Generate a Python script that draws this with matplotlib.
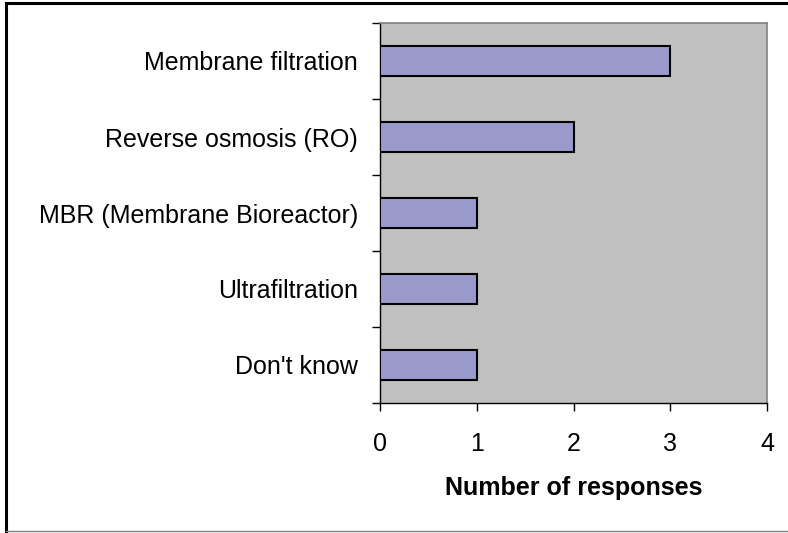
import matplotlib.pyplot as plt
from matplotlib.lines import Line2D
import numpy as np

categories = ["Membrane filtration", "Reverse osmosis (RO)", "MBR (Membrane Bioreactor)",
              "Ultrafiltration", "Don't know"]
responses = [3, 2, 1, 1, 1]
x_ticks = [0, 1, 2, 3, 4]

plt.rcParams.update({
    "font.family": ["Liberation Sans", "DejaVu Sans"],
    "font.size": 18,
})

W, H = 788, 533
fig = plt.figure(figsize=(W / 100, H / 100), dpi=100)
ax = fig.add_axes([380 / W, 1 - 403 / H, (767 - 380) / W, (403 - 23) / H])
ax.set_facecolor("#C0C0C0")

y = np.arange(len(categories))
ax.barh(y, responses, height=0.4, color="#9999CC", edgecolor="black", linewidth=1.5, zorder=3)
ax.set_ylim(len(categories) - 0.5, -0.5)
ax.set_xlim(0, 4)

ax.set_yticks(y)
ax.set_yticklabels(categories)
ax.set_yticks(np.arange(len(categories) + 1) - 0.5, minor=True)
ax.tick_params(axis="y", which="major", length=0, pad=16)
ax.tick_params(axis="y", which="minor", length=6, width=1, direction="out")
ax.set_xticks(x_ticks)
ax.tick_params(axis="x", length=6, width=1, direction="out", pad=15)

ax.set_xlabel("Number of responses", fontweight="bold", labelpad=14)

for side in ("left", "bottom"):
    ax.spines[side].set_color("black")
    ax.spines[side].set_linewidth(1)
for side in ("top", "right"):
    ax.spines[side].set_color("#808080")
    ax.spines[side].set_linewidth(1.2)

# outer chart border
fig.add_artist(Line2D([6 / W, 6 / W], [0, 1 - 3 / H], color="black", linewidth=2.2))
fig.add_artist(Line2D([6 / W, 1], [1 - 3 / H, 1 - 3 / H], color="black", linewidth=2.2))
fig.add_artist(Line2D([6 / W, 1], [1 - 531 / H, 1 - 531 / H], color="#808080", linewidth=1))

fig.savefig("out.png", dpi=100)
